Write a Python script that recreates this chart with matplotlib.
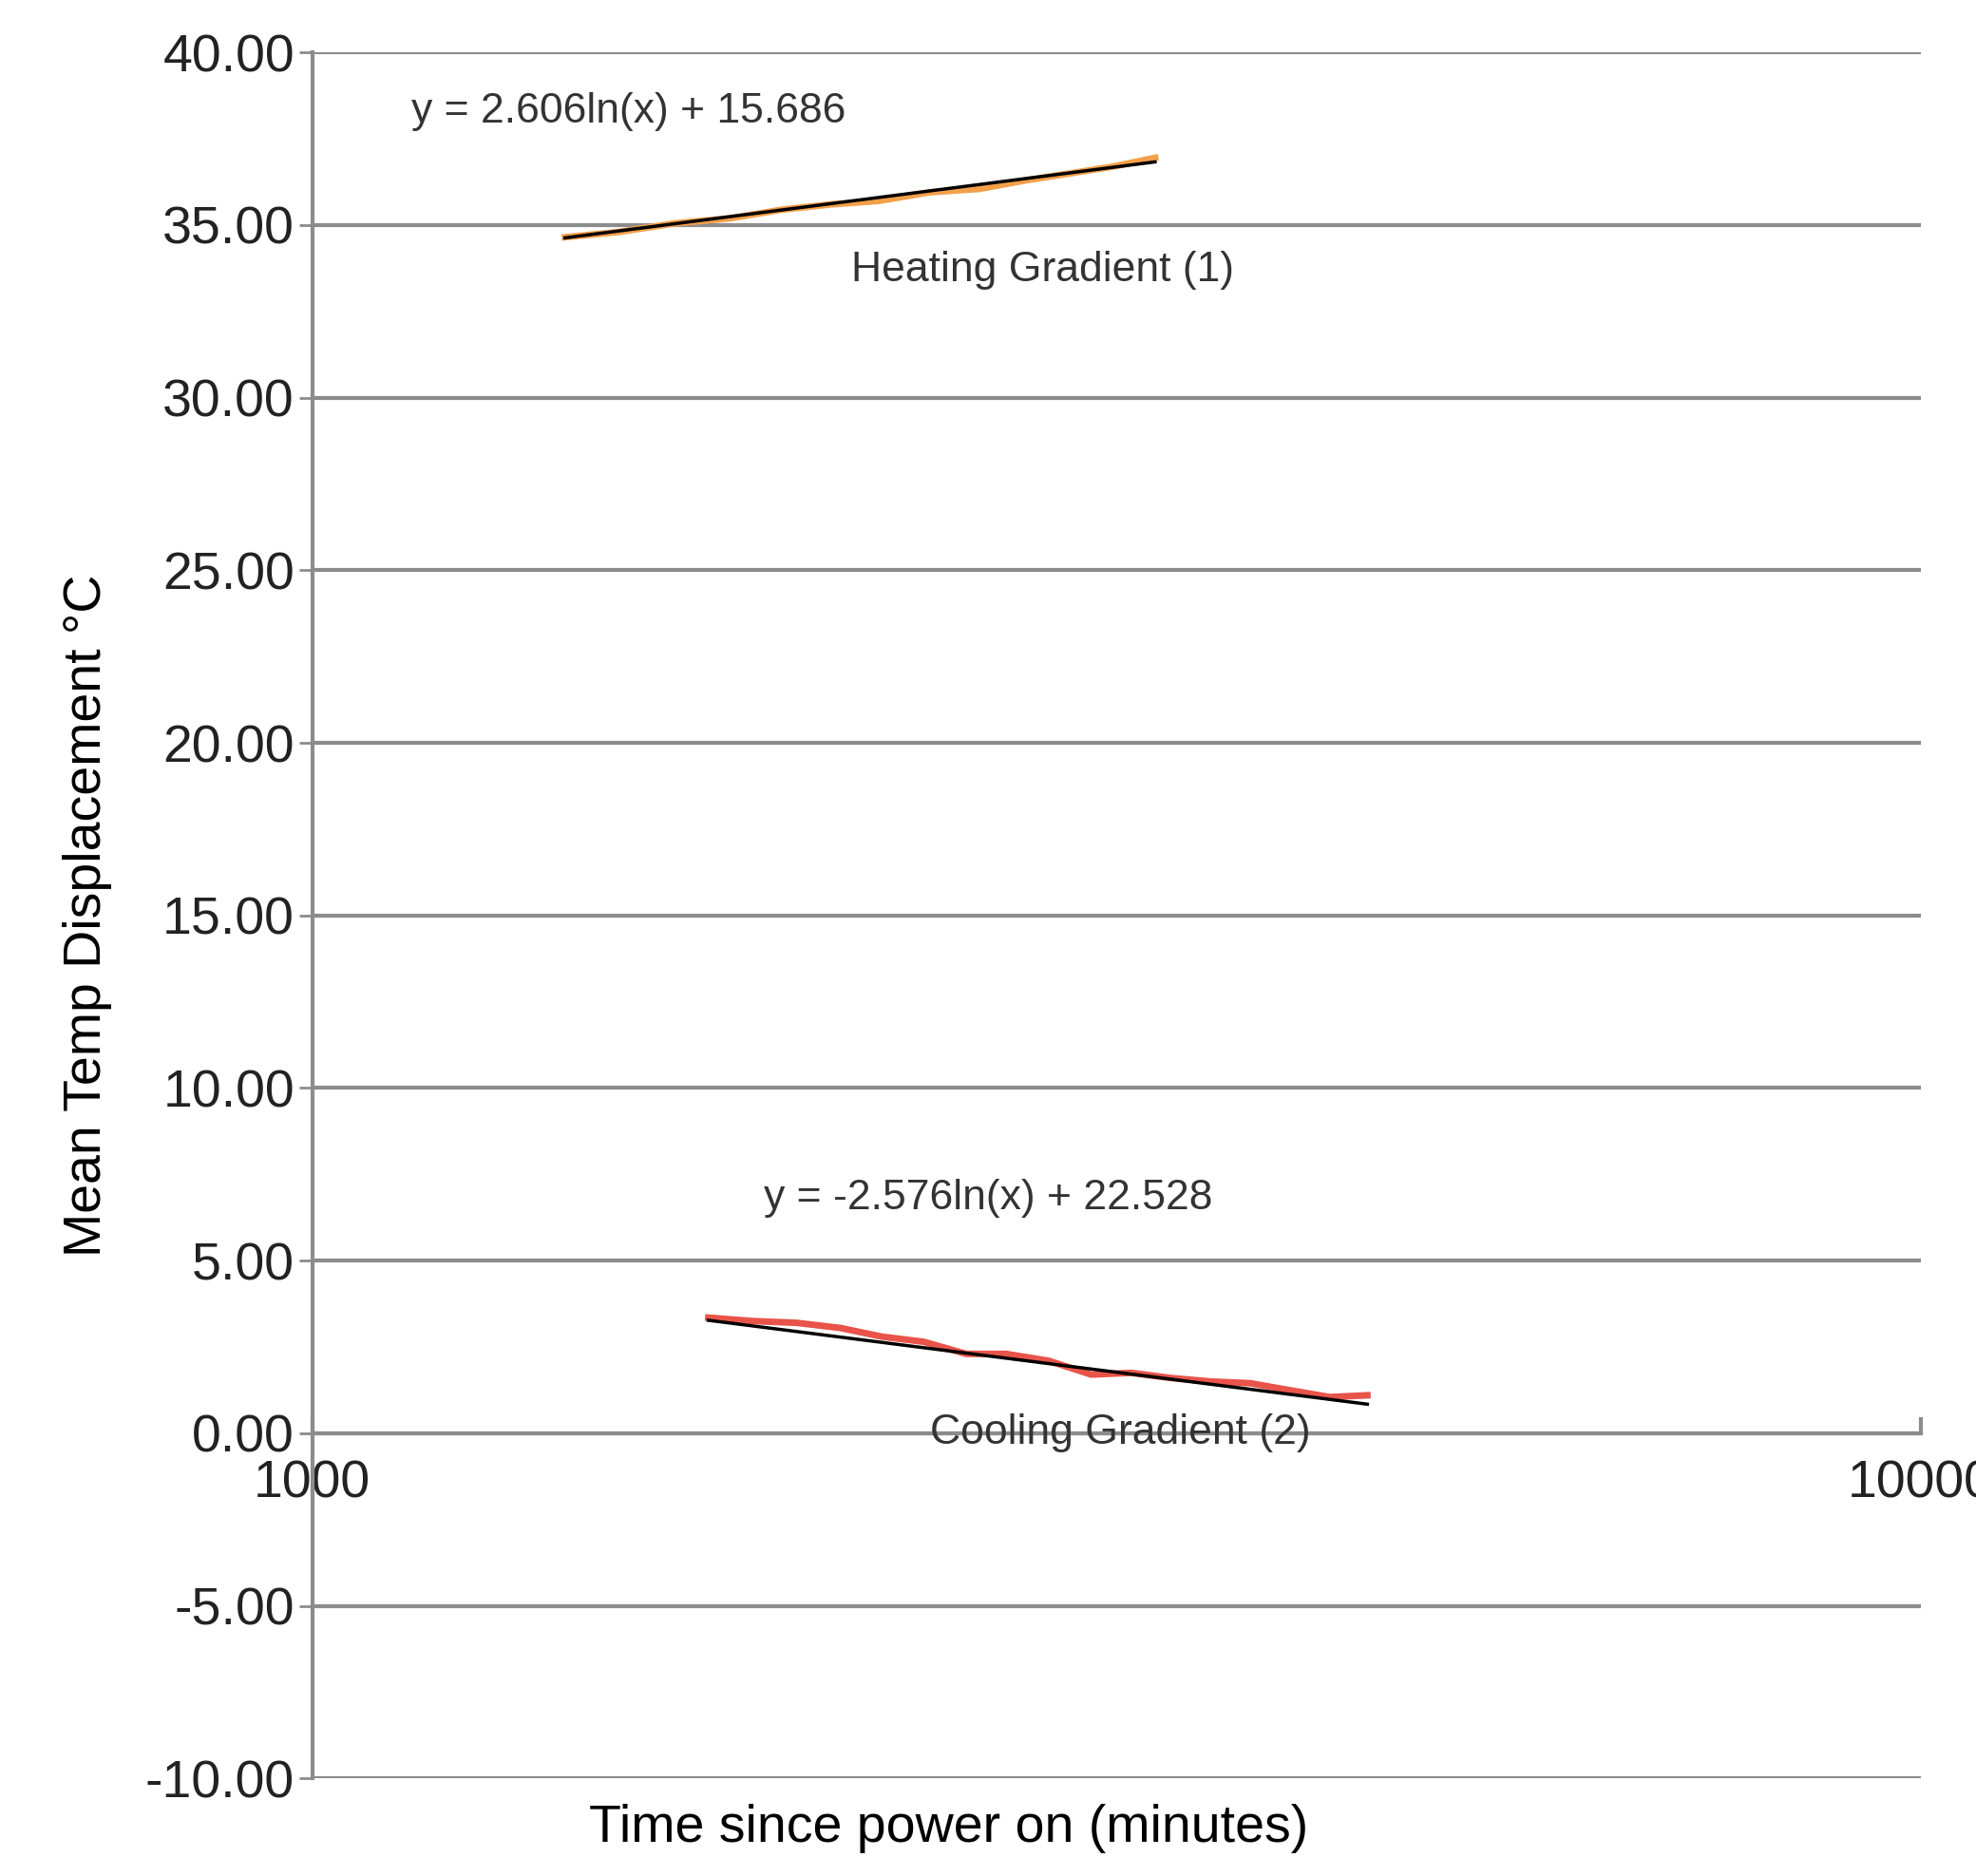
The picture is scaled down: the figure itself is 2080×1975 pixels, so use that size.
import numpy as np
import matplotlib.pyplot as plt

plt.rcParams['font.family'] = ['Liberation Sans', 'DejaVu Sans']

# heating series (minutes, mean temp displacement)
heat_t = [1436, 1550, 1680, 1820, 1960, 2100, 2250, 2420, 2600, 2780, 2960, 3150, 3342]
heat_y = [34.65, 34.80, 35.05, 35.20, 35.45, 35.60, 35.70, 35.95, 36.05, 36.30, 36.50, 36.70, 36.95]

# cooling series
cool_t = [1763, 1880, 2000, 2130, 2260, 2400, 2550, 2700, 2870, 3050, 3230, 3420, 3620, 3830, 4050, 4290, 4529]
cool_y = [3.35, 3.25, 3.20, 3.05, 2.80, 2.65, 2.30, 2.30, 2.10, 1.70, 1.75, 1.60, 1.50, 1.45, 1.25, 1.05, 1.10]

fig = plt.figure(figsize=(20.8, 19.75), dpi=100)
ax = fig.add_axes([0.158, 0.052, 0.814, 0.92])

ax.plot(heat_t, heat_y, color='#f4a04a', lw=5)
ax.plot(cool_t, cool_y, color='#e8544a', lw=5)

# log trend lines
a1, b1 = 2.606, 15.686
a2, b2 = -2.576, 22.528
ht = np.array([heat_t[0], heat_t[-1]])
ct = np.array([cool_t[0], cool_t[-1]])
ax.plot(ht, a1 * np.log(ht) + b1, color='black', lw=2.5)
ax.plot(ct, a2 * np.log(ct) + b2, color='black', lw=2.5)

ax.set_xscale('log')
ax.set_xlim(1000, 10000)
ax.set_ylim(-10, 40)
ax.set_yticks(np.arange(-10, 41, 5))
ax.set_yticklabels([f'{v:.2f}' for v in np.arange(-10, 41, 5)], fontsize=40, color='#222222')
ax.yaxis.grid(True, color='#8c8c8c', lw=3)
ax.set_axisbelow(True)
ax.tick_params(axis='y', length=10, width=2, color='#8c8c8c')

for s in ['top', 'right']:
    ax.spines[s].set_visible(False)
ax.spines['left'].set_color('#8c8c8c')
ax.spines['left'].set_linewidth(3)
ax.spines['bottom'].set_position(('data', 0))
ax.spines['bottom'].set_color('#8c8c8c')
ax.spines['bottom'].set_linewidth(3)

ax.set_xticks([1000, 10000])
ax.set_xticklabels(['1000', '10000'], fontsize=40, color='#222222')
ax.xaxis.set_minor_locator(plt.NullLocator())
ax.tick_params(axis='x', length=12, width=3, color='#8c8c8c', direction='in', pad=20)

ax.set_ylabel('Mean Temp Displacement \u00b0C', fontsize=40, labelpad=25)
fig.text(0.48, 0.018, 'Time since power on (minutes)', fontsize=40, ha='center')

ax.text(1152, 38.3, 'y = 2.606ln(x) + 15.686', fontsize=32, color='#333333', va='center')
ax.text(2162, 33.7, 'Heating Gradient (1)', fontsize=32, color='#333333', va='center')
ax.text(1910, 6.8, 'y = -2.576ln(x) + 22.528', fontsize=32, color='#333333', va='center')
ax.text(2422, 0.0, 'Cooling Gradient (2)', fontsize=32, color='#333333', va='center')

fig.savefig('out.png', dpi=100)
